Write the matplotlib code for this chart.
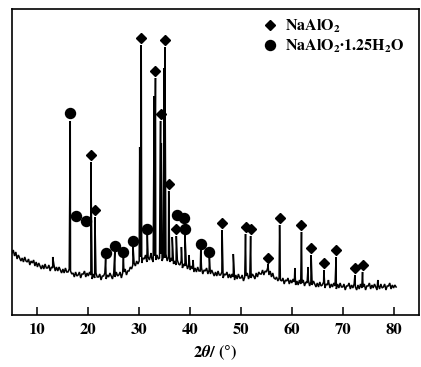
import numpy as np
import matplotlib
matplotlib.use("Agg")
import matplotlib.pyplot as plt
from matplotlib.lines import Line2D

# ---------------- data ----------------
# background trace, 0.25 deg steps from 5.0 to 80.5 (one row per degree)
base_start, base_step = 5.0, 0.25
baseline = [
    62, 65, 59, 63,   # 5
    56, 60, 57, 54,   # 6
    57, 53, 58, 54,   # 7
    53, 56, 50, 54,   # 8
    52, 55, 49, 53,   # 9
    48, 52, 49, 46,   # 10
    50, 46, 51, 47,   # 11
    47, 50, 44, 48,   # 12
    47, 50, 44, 48,   # 13
    44, 48, 45, 42,   # 14
    46, 42, 47, 43,   # 15
    43, 46, 44, 41,   # 16
    42, 38, 43, 39,   # 17
    40, 43, 37, 41,   # 18
    41, 44, 38, 42,   # 19
    39, 43, 40, 36,   # 20
    41, 37, 42, 38,   # 21
    38, 41, 35, 39,   # 22
    39, 42, 36, 40,   # 23
    38, 42, 39, 36,   # 24
    42, 38, 43, 39,   # 25
    40, 43, 37, 42,   # 26
    43, 46, 40, 44,   # 27
    44, 48, 46, 50,   # 28
    52, 49, 54, 51,   # 29
    54, 58, 52, 57,   # 30
    56, 60, 53, 58,   # 31
    55, 60, 56, 53,   # 32
    59, 55, 60, 56,   # 33
    57, 61, 54, 58,   # 34
    57, 61, 54, 58,   # 35
    53, 57, 54, 51,   # 36
    54, 50, 55, 51,   # 37
    50, 54, 47, 51,   # 38
    49, 52, 46, 50,   # 39
    45, 49, 46, 43,   # 40
    47, 43, 48, 44,   # 41
    44, 47, 41, 45,   # 42
    44, 47, 41, 45,   # 43
    41, 45, 42, 39,   # 44
    43, 39, 44, 40,   # 45
    40, 43, 37, 41,   # 46
    40, 43, 37, 41,   # 47
    37, 41, 38, 35,   # 48
    40, 36, 41, 37,   # 49
    37, 40, 34, 38,   # 50
    39, 42, 36, 40,   # 51
    37, 41, 39, 36,   # 52
    42, 38, 43, 41,   # 53
    41, 45, 40, 44,   # 54
    43, 47, 40, 44,   # 55
    38, 42, 37, 36,   # 56
    38, 34, 37, 35,   # 57
    34, 37, 31, 35,   # 58
    34, 37, 31, 35,   # 59
    32, 36, 33, 30,   # 60
    34, 30, 35, 31,   # 61
    32, 35, 29, 33,   # 62
    32, 35, 29, 33,   # 63
    30, 34, 31, 28,   # 64
    32, 28, 33, 29,   # 65
    30, 33, 27, 31,   # 66
    30, 33, 27, 31,   # 67
    28, 32, 29, 26,   # 68
    31, 27, 32, 28,   # 69
    28, 31, 25, 29,   # 70
    29, 32, 26, 30,   # 71
    27, 31, 28, 25,   # 72
    30, 26, 31, 27,   # 73
    28, 31, 25, 29,   # 74
    29, 32, 26, 30,   # 75
    27, 31, 28, 25,   # 76
    30, 26, 31, 27,   # 77
    28, 31, 25, 29,   # 78
    29, 32, 26, 30,   # 79
    27, 30, 28,       # 80
]

# diffraction peaks: position (2theta) and apex intensity
peak_pos = [13.0, 16.45, 20.5, 21.3, 23.4, 25.2, 26.9, 28.8, 30.1, 30.4,
            31.6, 32.3, 32.95, 33.2, 34.2, 34.35, 34.9, 35.05, 35.8, 36.5,
            37.3, 38.3, 39.0, 39.8, 40.6, 42.1, 43.8, 46.3, 48.5, 50.9,
            51.9, 55.3, 57.6, 60.6, 61.9, 63.2, 63.8, 66.3, 67.2, 68.7,
            72.4, 73.9, 76.9]
peak_int = [58, 194, 153, 98, 56, 63, 57, 68, 168, 270,
            80, 62, 219, 237, 194, 172, 247, 268, 124, 78,
            79, 68, 80, 60, 55, 65, 57, 85, 61, 81,
            79, 51, 90, 47, 83, 48, 60, 45, 35, 58,
            40, 43, 35]

# phase markers
nao_x = [20.5, 21.3, 30.4, 33.2, 34.2, 35.0, 35.8, 37.2, 46.3, 50.9,
         51.9, 55.3, 57.6, 61.9, 63.8, 66.3, 68.7, 72.4, 73.9]
nao_y = [160, 105, 277, 244, 201, 275, 131, 86, 92, 88,
         86, 57, 97, 90, 67, 52, 65, 47, 50]
hyd_x = [16.45, 17.5, 19.5, 23.4, 25.2, 26.9, 28.8, 31.6, 37.4, 38.9,
         39.1, 42.1, 43.8]
hyd_y = [202, 99, 94, 62, 69, 63, 74, 86, 100, 97,
         86, 71, 63]

x_ticks = [10, 20, 30, 40, 50, 60, 70, 80]
legend_labels = ['NaAlO$_\\mathbf{2}$',
                 'NaAlO$_\\mathbf{2}$·1.25H$_\\mathbf{2}$O']
xlabel = '2$\\boldsymbol{\\theta}$/ (°)'

# ---------------- build trace ----------------
bx = base_start + base_step * np.arange(len(baseline))
xs = np.concatenate([bx, np.array(peak_pos)])
ys = np.concatenate([np.array(baseline, float), np.array(peak_int, float)])
order = np.argsort(xs, kind="stable")
xs, ys = xs[order], ys[order]

# ---------------- figure ----------------
plt.rcParams['mathtext.fontset'] = 'stix'
plt.rcParams['font.family'] = ['STIXGeneral', 'Liberation Serif', 'DejaVu Serif']
plt.rcParams['font.weight'] = 'bold'

fig = plt.figure(figsize=(4.21, 3.67), dpi=100)
ax = fig.add_axes([12/421, 1-315/367, 407/421, 306/367])

ax.plot(xs, ys, color='black', lw=1.1, solid_joinstyle='miter')
ax.plot(nao_x, nao_y, ls='none', marker='D', ms=5.5, color='black')
ax.plot(hyd_x, hyd_y, ls='none', marker='o', ms=7.2, color='black')

ax.set_xlim(5, 85)
ax.set_ylim(0, 306)
ax.set_xticks(x_ticks)
ax.set_xticklabels([str(t) for t in x_ticks], fontsize=12, fontweight='bold')
ax.set_yticks([])
ax.tick_params(axis='x', direction='in', length=6, width=1.1, pad=6)
for s in ax.spines.values():
    s.set_linewidth(1.2)

ax.set_xlabel(xlabel, fontsize=12, fontweight='bold', labelpad=4)

handles = [Line2D([], [], ls='none', marker='D', ms=5.5, color='black'),
           Line2D([], [], ls='none', marker='o', ms=7.2, color='black')]
ax.legend(handles, legend_labels, loc='upper left',
          bbox_to_anchor=((264-12)/407, (315-18)/306), frameon=False,
          borderpad=0, borderaxespad=0, handlelength=0.8, handletextpad=0.5,
          labelspacing=0.15, prop={'size': 11.5, 'weight': 'bold'})

fig.savefig('out.png', dpi=100)
